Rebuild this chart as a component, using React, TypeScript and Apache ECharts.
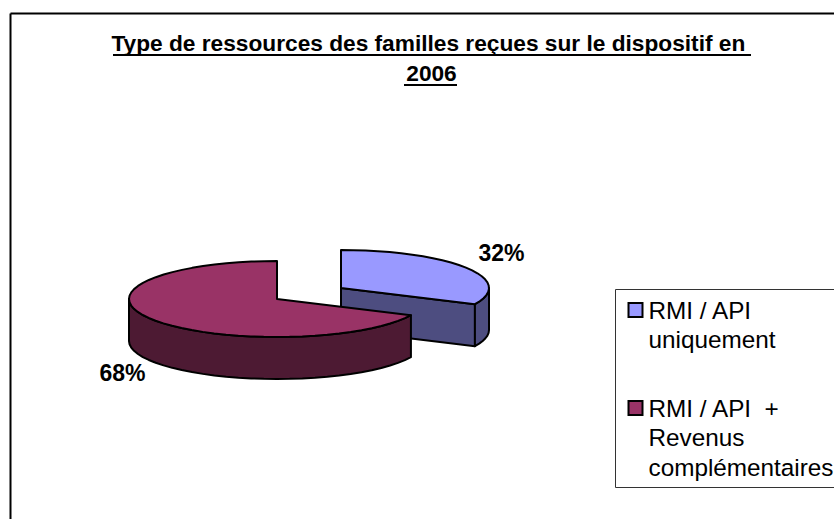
import React, { useEffect, useRef } from "react";
import * as echarts from "echarts";

const titleLines = ["Type de ressources des familles reçues sur le dispositif en ", "2006"];
const names = ["RMI / API\nuniquement", "RMI / API  +\nRevenus\ncomplémentaires"];
const values = [32, 68];
const topColors = ["#9999ff", "#993366"];
const sideColors = ["#4d4d80", "#4d1a33"];

const FONT = "'Liberation Sans', Arial, sans-serif";
const RX = 148;
const RY = 38;
const DEPTH = 42;
const centers = [[341, 288], [277, 299]];
const labelPos = [[501.5, 253], [122.5, 373]];
const total = values.reduce((a, b) => a + b, 0);

function pt(c: number[], deg: number, dy = 0): number[] {
  const a = (deg * Math.PI) / 180;
  return [c[0] + RX * Math.sin(a), c[1] - RY * Math.cos(a) + dy];
}

function arc(c: number[], from: number, to: number, dy = 0): number[][] {
  const out: number[][] = [];
  const n = Math.max(2, Math.ceil((to - from) / 5));
  for (let i = 0; i <= n; i++) out.push(pt(c, from + ((to - from) * i) / n, dy));
  return out;
}

function sliceRenderer(index: number) {
  return (_params: any, api: any) => {
    const value = api.value(0);
    const before = values.slice(0, index).reduce((a, b) => a + b, 0);
    const start = (before / total) * 360;
    const end = start + (value / total) * 360;
    const c = centers[index];
    const style = { stroke: "#000", lineWidth: 2, lineJoin: "round" };
    const children: any[] = [];
    const side = { fill: sideColors[index], ...style };
    if (start < 90) {
      const e = pt(c, end);
      children.push({
        type: "polygon",
        shape: { points: [c, e, [e[0], e[1] + DEPTH], [c[0], c[1] + DEPTH]] },
        style: side,
      });
    }
    const rimFrom = Math.max(start, 90);
    const rimTo = Math.min(end, 270);
    if (rimTo > rimFrom) {
      const up = arc(c, rimFrom, rimTo);
      const down = arc(c, rimFrom, rimTo, DEPTH).reverse();
      children.push({ type: "polygon", shape: { points: [...up, ...down] }, style: side });
    }
    children.push({
      type: "polygon",
      shape: { points: [c, ...arc(c, start, end)] },
      style: { fill: topColors[index], ...style },
    });
    children.push({
      type: "text",
      style: {
        text: `${Math.round((value / total) * 100)}%`,
        x: labelPos[index][0],
        y: labelPos[index][1],
        align: "center",
        verticalAlign: "middle",
        font: `bold 23px ${FONT}`,
        fill: "#000",
      },
    });
    return { type: "group", children };
  };
}

export default function App() {
  const ref = useRef<HTMLDivElement>(null);
  useEffect(() => {
    document.body.style.margin = "0";
    const chart = echarts.init(ref.current!, undefined, { renderer: "svg" });
    chart.setOption({
      animation: false,
      backgroundColor: "#fff",
      title: {
        text: titleLines.join("\n"),
        left: 426.5,
        top: 22.5,
        textAlign: "center",
        textStyle: { fontFamily: FONT, fontSize: 22.7, fontWeight: "bold", color: "#000", lineHeight: 30 },
      },
      legend: {
        orient: "vertical",
        left: 627.5,
        top: 265.75,
        padding: 0,
        itemWidth: 14,
        itemHeight: 14,
        itemGap: -20,
        itemStyle: { borderColor: "#000", borderWidth: 2 },
        selectedMode: false,
        // leading blank lines keep the marker level with the first line of its entry
        formatter: (name: string) => "\n".repeat(name.split("\n").length - 1) + name,
        textStyle: { fontFamily: FONT, fontSize: 24.3, color: "#000", lineHeight: 29.5, padding: [0, 0, 0, 1] },
        data: names.map((name) => ({ name, icon: "rect" })),
      },
      graphic: [
        { type: "line", z: -1, shape: { x1: 10.5, y1: 13.5, x2: 834, y2: 13.5 }, style: { stroke: "#000", lineWidth: 2 } },
        { type: "line", z: -1, shape: { x1: 10.5, y1: 13.5, x2: 10.5, y2: 519 }, style: { stroke: "#000", lineWidth: 2 } },
        { type: "rect", z: -1, shape: { x: 615.5, y: 289.5, width: 230, height: 198 }, style: { fill: "#fff", stroke: "#333", lineWidth: 1 } },
        { type: "line", shape: { x1: 113, y1: 55, x2: 751, y2: 55 }, style: { stroke: "#000", lineWidth: 2 } },
        { type: "line", shape: { x1: 404, y1: 85, x2: 457, y2: 85 }, style: { stroke: "#000", lineWidth: 2 } },
      ],
      series: names.map((name, i) => ({
        type: "custom",
        name,
        coordinateSystem: "none",
        itemStyle: { color: topColors[i] },
        renderItem: sliceRenderer(i),
        data: [[values[i]]],
      })),
    });
    return () => chart.dispose();
  }, []);
  return <div ref={ref} style={{ width: 834, height: 519 }} />;
}
